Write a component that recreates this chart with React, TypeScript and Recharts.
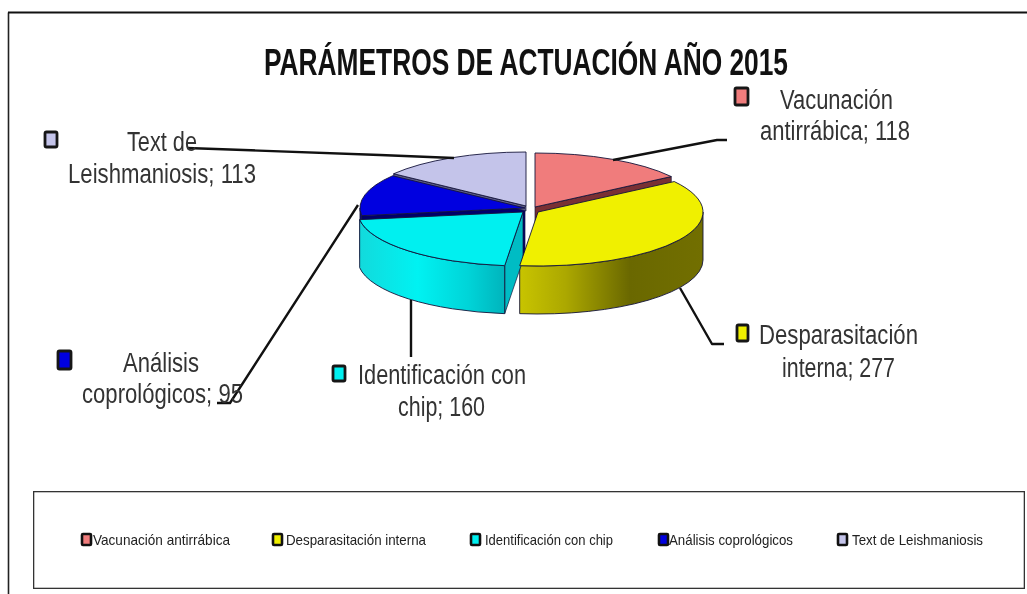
import React from "react";
import { PieChart, Pie, Legend } from "recharts";

const TITLE = "PARÁMETROS DE ACTUACIÓN AÑO 2015";
const categories = ["Vacunación antirrábica", "Desparasitación interna", "Identificación con chip", "Análisis coprológicos", "Text de Leishmaniosis"];
const values = [118, 277, 160, 95, 113];
const colors = ["#F07C7C", "#F0F000", "#00F0F0", "#0000E0", "#C4C4EA"];
const firstLineWords = [1, 1, 2, 1, 2];

const pieData = categories.map((name, i) => ({ name, value: values[i], fill: colors[i] }));

// layout only
const W = 1027, H = 594;
const CX = 530, CY = 209, R = 165, RATIO = 54 / 165, DEPTH = 48;
const offsets = [[5, -2], [8, 3], [-7, 3], [-5, -1], [-4, -3]];
const cutColors = ["#7A3034", "#807C00", "#00BCC4", "#00006A", "#5C5C88"];
const labelLayout = [
  { marker: [735, 88, 13, 17], lines: [[780, 113, 109], [760, 150, 140]], leader: "613,160 717,140 727,140" },
  { marker: [737, 325, 11, 16], lines: [[759, 159, 344], [782, 113, 377]], leader: "680,288 712,344 724,344" },
  { marker: [333, 366, 12, 15], lines: [[358, 168, 384], [398, 87, 416]], leader: "411,300 411,357" },
  { marker: [58, 351, 13, 18], lines: [[123, 76, 372], [82, 161, 403]], leader: "358,205 230,403 217,403" },
  { marker: [45, 132, 12, 15], lines: [[127, 70, 151], [68, 188, 183]], leader: "454,158 380,155 187,148" },
];
const legendLayout = [
  { m: 82, t: 93, w: 137 },
  { m: 273, t: 286, w: 140 },
  { m: 471, t: 485, w: 128 },
  { m: 659, t: 669, w: 124 },
  { m: 838, t: 852, w: 131 },
];
const LEGEND_BOX = { left: 33, top: 491, width: 992, height: 98 };
const FONT = "'Liberation Sans', Arial, sans-serif";

const rad = (a: number) => (a * Math.PI) / 180;
const point = (i: number, a: number, r: number, cx: number, cy: number) => [
  cx + offsets[i][0] + r * Math.cos(rad(a)),
  cy + offsets[i][1] - r * RATIO * Math.sin(rad(a)),
];

const topShape = (p: any) => {
  const { cx, cy, outerRadius: r, startAngle, endAngle, index, fill } = p;
  const [sx, sy] = point(index, startAngle, r, cx, cy);
  const [ex, ey] = point(index, endAngle, r, cx, cy);
  const large = Math.abs(startAngle - endAngle) > 180 ? 1 : 0;
  const ax = cx + offsets[index][0], ay = cy + offsets[index][1];
  return (
    <path
      d={`M${ax},${ay} L${sx},${sy} A${r},${r * RATIO} 0 ${large} 1 ${ex},${ey} Z`}
      fill={fill}
      stroke="#14143a"
      strokeWidth={0.9}
      strokeLinejoin="round"
    />
  );
};

const wallGroup = (p: any) => {
  const { cx, cy, outerRadius: r, startAngle, endAngle, index } = p;
  const ax = cx + offsets[index][0], ay = cy + offsets[index][1];
  const hi = Math.min(startAngle, 0), lo = Math.max(endAngle, -180);
  const gid = `wall-${index}`;
  const face = (a: number, d: number) => {
    const [x, y] = point(index, a, r, cx, cy);
    return (
      <path
        d={`M${ax},${ay} L${x},${y} L${x},${y + d} L${ax},${ay + d} Z`}
        fill={cutColors[index]}
        stroke="#14143a"
        strokeWidth={0.7}
      />
    );
  };
  let wall = null;
  if (lo < hi) {
    const [hx, hy] = point(index, hi, r, cx, cy);
    const [lx, ly] = point(index, lo, r, cx, cy);
    wall = (
      <path
        d={`M${hx},${hy} A${r},${r * RATIO} 0 0 1 ${lx},${ly} L${lx},${ly + DEPTH} A${r},${r * RATIO} 0 0 0 ${hx},${hy + DEPTH} Z`}
        fill={index === 1 || index === 2 ? `url(#${gid})` : "#00008A"}
        stroke="#14143a"
        strokeWidth={0.9}
      />
    );
  }
  return (
    <g>
      <defs>
        <linearGradient id="wall-1" x1="0" x2="1" y1="0" y2="0">
          <stop offset="0" stopColor="#C8C400" />
          <stop offset="0.25" stopColor="#ACA800" />
          <stop offset="0.6" stopColor="#6A6800" />
          <stop offset="1" stopColor="#726F00" />
        </linearGradient>
        <linearGradient id="wall-2" x1="0" x2="1" y1="0" y2="0">
          <stop offset="0" stopColor="#12DADC" />
          <stop offset="0.4" stopColor="#00F2F2" />
          <stop offset="0.75" stopColor="#00D4D8" />
          <stop offset="1" stopColor="#00B4BC" />
        </linearGradient>
      </defs>
      {index === 2 ? face(startAngle, DEPTH) : null}
      {index === 0 ? face(endAngle, DEPTH) : null}
      {index === 4 ? face(startAngle, 5) : null}
      {index === 3 ? face(startAngle, DEPTH) : null}
      {wall}
    </g>
  );
};

const backWalls = (p: any) => (p.index === 0 || p.index === 3 || p.index === 4 ? wallGroup(p) : <g />);
const frontWalls = (p: any) => (p.index === 1 || p.index === 2 ? wallGroup(p) : <g />);

const dataLabel = (p: any) => {
  const i = p.index;
  const l = labelLayout[i];
  const words = `${categories[i]}; ${values[i]}`.split(" ");
  const textLines = [words.slice(0, firstLineWords[i]).join(" "), words.slice(firstLineWords[i]).join(" ")];
  const [mx, my, mw, mh] = l.marker;
  return (
    <g key={`label-${i}`}>
      <polyline points={l.leader} fill="none" stroke="#111" strokeWidth={2.4} strokeLinejoin="round" />
      <rect x={mx} y={my} width={mw} height={mh} rx={1.5} fill={colors[i]} stroke="#161616" strokeWidth={2.8} />
      {textLines.map((t, k) => (
        <text
          key={k}
          x={l.lines[k][0]}
          y={l.lines[k][2]}
          textLength={l.lines[k][1]}
          lengthAdjust="spacingAndGlyphs"
          fontFamily={FONT}
          fontSize={27}
          fill="#333"
        >
          {t}
        </text>
      ))}
    </g>
  );
};

const legendContent = (props: any) => {
  const seen = new Set<string>();
  const items = (props.payload || []).filter((it: any) => {
    if (it.type === "none" || seen.has(it.value)) return false;
    seen.add(it.value);
    return true;
  });
  return (
    <svg width={LEGEND_BOX.width} height={LEGEND_BOX.height} style={{ display: "block" }}>
      <rect x={0.5} y={0.5} width={LEGEND_BOX.width - 1} height={LEGEND_BOX.height - 1} fill="#fff" stroke="#333" strokeWidth={1.6} />
      {items.map((it: any) => {
        const i = categories.indexOf(it.value);
        const l = legendLayout[i];
        return (
          <g key={it.value}>
            <rect x={l.m - LEGEND_BOX.left} y={43} width={9} height={11} rx={1} fill={it.color} stroke="#111" strokeWidth={2.6} />
            <text
              x={l.t - LEGEND_BOX.left}
              y={54}
              textLength={l.w}
              lengthAdjust="spacingAndGlyphs"
              fontFamily={FONT}
              fontSize={15}
              fill="#222"
            >
              {it.value}
            </text>
          </g>
        );
      })}
    </svg>
  );
};

const common = {
  data: pieData,
  dataKey: "value",
  nameKey: "name",
  cx: CX,
  cy: CY,
  innerRadius: 0,
  outerRadius: R,
  startAngle: 90,
  endAngle: -270,
  stroke: "none",
  isAnimationActive: false,
  labelLine: false,
};

export default function App() {
  return (
    <div style={{ position: "absolute", left: 0, top: 0, width: W, height: H, background: "#fff", overflow: "hidden", filter: "blur(0.45px)" }}>
      <PieChart width={W} height={H} margin={{ top: 0, right: 0, bottom: 0, left: 0 }}>
        <line x1={8.5} y1={12.5} x2={8.5} y2={H} stroke="#222" strokeWidth={1.6} />
        <line x1={8} y1={12.5} x2={W} y2={12.5} stroke="#111" strokeWidth={1.8} />
        <text x={264} y={75} textLength={524} lengthAdjust="spacingAndGlyphs" fontFamily={FONT} fontWeight={700} fontSize={36} fill="#111">
          {TITLE}
        </text>
        <Pie {...common} legendType="none" shape={backWalls} />
        <Pie {...common} legendType="none" shape={frontWalls} />
        <Pie {...common} shape={topShape} label={dataLabel} />
        <Legend
          content={legendContent}
          wrapperStyle={{ position: "absolute", left: LEGEND_BOX.left, top: LEGEND_BOX.top, width: LEGEND_BOX.width, height: LEGEND_BOX.height, bottom: "auto" }}
        />
      </PieChart>
    </div>
  );
}
